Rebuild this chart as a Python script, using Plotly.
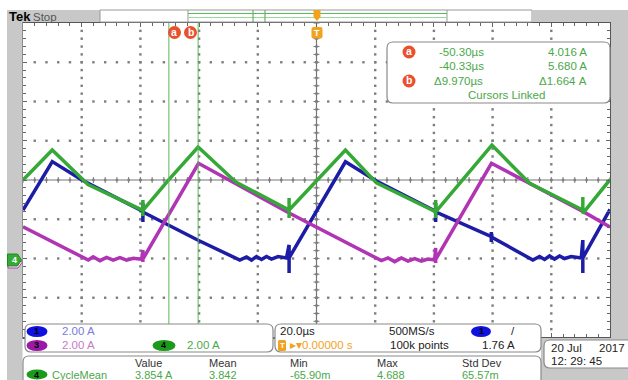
import plotly.graph_objects as go

# ---- Acquisition: 20 us/div horizontal, 2 A/div on every channel ----
# Times in microseconds relative to the trigger, currents in amperes.
ch1_t = [-100.0, -90.03, -79.92, -59.15, -59.15, -59.15, -59.15, -40.33, -26.13, -23.85,
         -22.14, -20.44, -18.74, -17.04, -15.34, -13.09, -10.23, -9.34, -9.34, -9.34,
         9.86, 20.41, 40.60, 40.60, 40.60, 40.60, 59.56, 59.56, 59.56, 59.56,
         73.72, 76.00, 77.70, 79.40, 81.10, 82.81, 84.51, 86.79, 90.20, 90.74,
         90.74, 90.74, 100.0]
ch1_i = [2.47, 4.94, 4.00, 2.40, 2.83, 1.86, 2.37, 0.93, -0.08, 0.08,
         -0.08, 0.10, -0.05, 0.10, -0.03, 0.10, 0.03, 0.69, -0.74, 0.03,
         4.93, 3.95, 2.40, 2.83, 1.86, 2.37, 1.12, 1.35, 0.84, 1.10,
         -0.08, 0.10, -0.05, 0.13, -0.03, 0.13, 0.00, 0.10, 0.03, 0.94,
         -0.74, 0.03, 2.50]

ch3_t = [-100.0, -77.77, -76.07, -73.79, -71.52, -69.27, -66.98, -64.70, -62.43, -59.57,
         -59.15, -59.15, -59.15, -40.20, -9.34, 22.11, 24.36, 26.64, 28.92, 31.17,
         33.45, 35.73, 37.98, 40.26, 40.60, 40.60, 40.60, 59.60, 90.74, 100.0]
ch3_i = [1.62, -0.08, 0.09, -0.11, 0.06, -0.08, 0.04, -0.08, 0.01, -0.04,
         0.43, -0.18, -0.03, 4.85, 2.32, -0.11, 0.03, -0.16, 0.03, -0.13,
         0.00, -0.13, -0.03, -0.08, 0.54, -0.23, -0.05, 4.85, 2.40, 1.60]

ch4_t = [-100.0, -90.03, -77.85, -59.15, -59.15, -59.15, -59.15, -50.30, -40.33, -27.50,
         -9.34, -9.34, -9.34, -9.34, 9.86, 20.41, 40.60, 40.60, 40.60, 40.60,
         59.76, 72.60, 90.74, 90.74, 90.74, 100.0]
ch4_i = [4.00, 5.53, 3.77, 2.45, 2.98, 2.17, 2.45, 4.016, 5.680, 3.90,
         2.47, 3.08, 2.06, 2.47, 5.53, 3.85, 2.38, 2.98, 2.06, 2.38,
         5.78, 3.83, 2.47, 3.13, 2.30, 4.02]

# Cursor readout
cursor_a_t, cursor_a_i = -50.30, 4.016
cursor_b_t, cursor_b_i = -40.33, 5.680

# Measurement table (channel 4, CycleMean)
meas_headers = ["Value", "Mean", "Min", "Max", "Std Dev"]
meas_values = ["3.854 A", "3.842", "-65.90m", "4.688", "65.57m"]

amps_per_div = 2.0           # A/div
ground_div = -2.0            # ground reference, divisions from centre
y_centre = -ground_div * amps_per_div
t_range = [-100, 100]
y_range = [y_centre - 4 * amps_per_div, y_centre + 4 * amps_per_div]

# ---- page geometry (pixels) ----
W, H = 628, 380
GL, GR, GT, GB = 23, 610, 23, 337


def X(x):
    return round((x - GL) / (GR - GL), 5)


def Y(y):
    return round((GB - y) / (GB - GT), 5)


def rrect(x0, y0, x1, y1, r):
    return (f"M{X(x0+r)},{Y(y0)} L{X(x1-r)},{Y(y0)} Q{X(x1)},{Y(y0)} {X(x1)},{Y(y0+r)} "
            f"L{X(x1)},{Y(y1-r)} Q{X(x1)},{Y(y1)} {X(x1-r)},{Y(y1)} L{X(x0+r)},{Y(y1)} "
            f"Q{X(x0)},{Y(y1)} {X(x0)},{Y(y1-r)} L{X(x0)},{Y(y0+r)} Q{X(x0)},{Y(y0)} {X(x0+r)},{Y(y0)} Z")


def poly(pts):
    return "M" + " L".join(f"{X(a)},{Y(b)}" for a, b in pts) + " Z"


BLUE = "#1c1ca6"
PURPLE = "#b034b4"
GREEN = "#35a935"
CUR_GREEN = "#5cb85c"
TXT_GREEN = "#4aa84a"
ORANGE = "#f2a21e"
RED = "#e8502e"
GRAY = "#c8c8c8"
FONT = "Liberation Sans"

fig = go.Figure()

shapes = []
ann = []


def rect(x0, y0, x1, y1, fill, line=None, lw=0, layer="above"):
    shapes.append(dict(type="rect", xref="paper", yref="paper", x0=X(x0), x1=X(x1),
                       y0=Y(y1), y1=Y(y0), fillcolor=fill,
                       line=dict(color=line or fill, width=lw), layer=layer))


def line_px(x0, y0, x1, y1, color, w=1, layer="above"):
    shapes.append(dict(type="line", xref="paper", yref="paper", x0=X(x0), x1=X(x1),
                       y0=Y(y0), y1=Y(y1), line=dict(color=color, width=w), layer=layer))


def panel(x0, y0, x1, y1, r=5, fill="white", border="#8a8a8a"):
    shapes.append(dict(type="path", xref="paper", yref="paper", path=rrect(x0, y0, x1, y1, r),
                       fillcolor=fill, line=dict(color=border, width=1.2), layer="above"))


def oval(cx, cy, w, h, fill):
    shapes.append(dict(type="circle", xref="paper", yref="paper", x0=X(cx - w / 2), x1=X(cx + w / 2),
                       y0=Y(cy + h / 2), y1=Y(cy - h / 2), fillcolor=fill,
                       line=dict(color=fill, width=0), layer="above"))


def text(s, x, y, color="#222", size=11, xa="left", bold=False, family=FONT):
    if bold:
        s = f"<b>{s}</b>"
    ann.append(dict(text=s, x=X(x), y=Y(y), xref="paper", yref="paper", xanchor=xa,
                    yanchor="middle", showarrow=False, font=dict(color=color, size=size, family=family)))


# dotted graticule: a dot at each minor division along every major line,
# drawn as a marker-only trace on the data axes
dot_t, dot_i = [], []
for k in range(1, 10):
    for m in range(1, 40):
        dot_t.append(t_range[0] + k * 20)
        dot_i.append(y_range[0] + m * 0.4)
for k in range(1, 8):
    for m in range(1, 50):
        dot_t.append(t_range[0] + m * 4)
        dot_i.append(y_range[0] + k * amps_per_div)
fig.add_trace(go.Scatter(x=dot_t, y=dot_i, mode="markers",
                         marker=dict(symbol="square", size=2.4, color="#7e7e7e", line=dict(width=0)),
                         hoverinfo="skip", showlegend=False))

# graticule centre cross with minor ticks
xc, yc = (GL + GR) / 2, (GT + GB) / 2
line_px(GL, yc, GR, yc, "#777", 1.2, "between")
line_px(xc, GT, xc, GB, "#777", 1.2, "between")
for k in range(51):
    x = GL + k * (GR - GL) / 50
    line_px(x, yc - 3, x, yc + 3, "#777", 1, "between")
for k in range(41):
    y = GT + k * (GB - GT) / 40
    line_px(xc - 3, y, xc + 3, y, "#777", 1, "between")

for t, i, c in [(ch1_t, ch1_i, BLUE), (ch3_t, ch3_i, PURPLE), (ch4_t, ch4_i, GREEN)]:
    fig.add_trace(go.Scatter(x=t, y=i, mode="lines", line=dict(color=c, width=3.5),
                             hoverinfo="skip", showlegend=False))

# cursors
for ct in (cursor_a_t, cursor_b_t):
    shapes.append(dict(type="line", xref="x", yref="paper", x0=ct, x1=ct, y0=0, y1=1,
                       line=dict(color=CUR_GREEN, width=1), layer="above"))

# frame: white top margin, gray surround
rect(0, 0, W, 10, "white")
rect(7, 10, GL - 0.5, H, GRAY)
rect(GR + 1, 10, W, GB + 3, GRAY)
rect(541, GB + 1, W, H, GRAY)
# top status bar
rect(7, 10, 100, 22, GRAY)
rect(100, 10, 532, 22, "white", "#9a9a9a", 1)
rect(532, 10, W, 22, GRAY)
line_px(188, 10, 188, 22, "#9a9a9a")
line_px(447, 10, 447, 22, "#9a9a9a")
line_px(188, 13.5, 447, 13.5, CUR_GREEN, 1.2)
line_px(188, 17.5, 447, 17.5, "#9fd69f", 1.2)
line_px(253, 10, 253, 22, CUR_GREEN, 1.2)
line_px(265, 10, 265, 22, CUR_GREEN, 1.2)
text("Tek", 7, 16.5, "#000", 13, bold=True)
text("Stop", 31, 16.5, "#555", 11.5)

# trigger position markers
shapes.append(dict(type="path", xref="paper", yref="paper",
                   path=poly([(313.5, 10), (320.5, 10), (320.5, 17), (317, 21), (313.5, 17)]),
                   fillcolor=ORANGE, line=dict(color=ORANGE, width=0), layer="above"))
shapes.append(dict(type="path", xref="paper", yref="paper", path=rrect(311.5, 27, 322.5, 38.5, 2),
                   fillcolor=ORANGE, line=dict(color=ORANGE, width=0), layer="above"))
text("T", 317, 33, "white", 9, xa="center", bold=True)

# cursor labels on graticule
for cx, s in [(174.5, "a"), (190.5, "b")]:
    oval(cx, 32.5, 13, 13, RED)
    text(s, cx, 32, "white", 10.5, xa="center", bold=True)

# ground marker for channel 4 (channel 3 marker underneath)
shapes.append(dict(type="path", xref="paper", yref="paper",
                   path=poly([(8, 257), (18, 257), (22, 262.5), (18, 268), (8, 268)]),
                   fillcolor="white", line=dict(color=PURPLE, width=1), layer="above"))
shapes.append(dict(type="path", xref="paper", yref="paper",
                   path=poly([(7.5, 254), (17.5, 254), (21.5, 260), (17.5, 266), (7.5, 266)]),
                   fillcolor=GREEN, line=dict(color="#1f8a1f", width=1), layer="above"))
text("4", 14, 260, "white", 9, xa="center", bold=True)

# cursor readout box
panel(387, 42, 610, 103, 6)
for cy, s in [(52, "a"), (81, "b")]:
    oval(409, cy, 13, 13, RED)
    text(s, 409, cy - 0.5, "white", 10.5, xa="center", bold=True)
text(f"{cursor_a_t:.2f}µs", 437, 52, TXT_GREEN, 11.5)
text(f"{cursor_b_t:.2f}µs", 437, 66, TXT_GREEN, 11.5)
text(f"Δ{cursor_b_t - cursor_a_t:.3f}µs", 432, 81, TXT_GREEN, 11.5)
text(f"{cursor_a_i:.3f} A", 589, 52, TXT_GREEN, 11.5, xa="right")
text(f"{cursor_b_i:.3f} A", 589, 66, TXT_GREEN, 11.5, xa="right")
text(f"Δ{cursor_b_i - cursor_a_i:.3f} A", 589, 81, TXT_GREEN, 11.5, xa="right")
text("Cursors Linked", 507, 95, TXT_GREEN, 11.5, xa="center")

# channel scale panel
panel(25, 324, 273, 352, 6)
oval(37, 331.5, 21, 11, "#1010e0")
text("1", 37, 331.5, "#000", 9, xa="center", bold=True)
text("2.00 A", 60, 331.5, "#7a7ae0", 11.5)
oval(37, 345.5, 21, 11, "#9a1aa6")
text("3", 37, 345.5, "#000", 9, xa="center", bold=True)
text("2.00 A", 60, 345.5, "#c77ac9", 11.5)
oval(164, 345.5, 23, 11, "#1c9a1c")
text("4", 164, 345.5, "#000", 9, xa="center", bold=True)
text("2.00 A", 185, 345.5, TXT_GREEN, 11.5)

# horizontal / trigger panel
panel(275, 324, 541, 352, 6)
text("20.0µs", 278, 331.5, "#222", 11.5)
text("500MS/s", 387, 331.5, "#222", 11.5)
oval(481, 331.5, 20, 11, "#1010e0")
text("1", 481, 331.5, "#000", 9, xa="center", bold=True)
text("/", 509, 331.5, "#222", 11.5)
shapes.append(dict(type="path", xref="paper", yref="paper", path=rrect(278, 340, 286, 351, 1.5),
                   fillcolor=ORANGE, line=dict(color=ORANGE, width=0), layer="above"))
text("T", 282, 345.5, "white", 8, xa="center", bold=True)
text("▸▾0.00000 s", 288, 345.5, ORANGE, 11.5)
text("100k points", 388, 345.5, "#222", 11.5)
text("1.76 A", 517, 345.5, "#222", 11.5, xa="right")

# date panel
panel(544, 340, 634, 368, 6)
text("20 Jul", 549, 348.5, "#222", 11.5)
text("2017", 627, 348.5, "#222", 11.5, xa="right")
text("12: 29: 45", 549, 361, "#222", 11.5)

# measurement panel
panel(23, 356, 541, 392, 6)
cols = [133, 207, 288, 375, 460]
for x, h, v in zip(cols, meas_headers, meas_values):
    text(h, x, 363.5, "#333", 11)
    text(v, x, 374.5, TXT_GREEN, 11)
oval(37, 374.5, 21, 10, "#1c9a1c")
text("4", 37, 374.5, "#000", 9, xa="center", bold=True)
text("CycleMean", 50, 374.5, TXT_GREEN, 11)

axis_common = dict(showticklabels=False, showline=True, linecolor="#555", linewidth=1.5,
                   mirror="ticks", ticks="inside", ticklen=4, tickcolor="#666", zeroline=False,
                   showgrid=False, fixedrange=True)
fig.update_xaxes(range=t_range, tick0=t_range[0], dtick=20,
                 minor=dict(tick0=t_range[0], dtick=4, ticks="inside", ticklen=3, tickcolor="#666",
                            showgrid=False), **axis_common)
fig.update_yaxes(range=y_range, tick0=y_range[0], dtick=amps_per_div,
                 minor=dict(tick0=y_range[0], dtick=0.4, ticks="inside", ticklen=3, tickcolor="#666",
                            showgrid=False), **axis_common)

fig.update_layout(width=W, height=H, margin=dict(l=GL, r=W - GR, t=GT, b=H - GB),
                  paper_bgcolor="white", plot_bgcolor="white", shapes=shapes, annotations=ann,
                  showlegend=False)
fig.write_html("out.html")
